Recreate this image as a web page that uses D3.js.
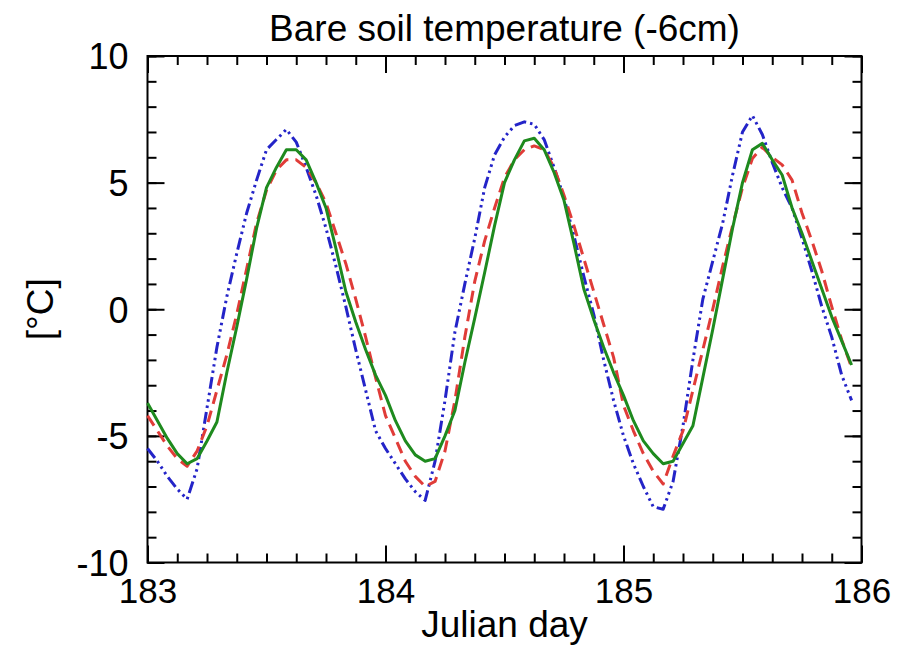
<!DOCTYPE html>
<html>
<head>
<meta charset="utf-8">
<script src="https://cdn.jsdelivr.net/npm/d3@7"></script>
<style>
  html, body { margin: 0; padding: 0; background: #fff; }
  svg text { font-family: "Liberation Sans", Arial, Helvetica, sans-serif; fill: #000; }
</style>
</head>
<body>
<div id="chart"></div>
<script>
// --- data: hourly values, day 183.0 .. 185.96 ---
const startDay = 183;
const stepDay = 1 / 24;

const solidGreen = [
  -3.7, -4.4, -5.1, -5.7, -6.1, -5.9, -5.2, -4.45, -2.5, -0.7, 1.2, 3.2, 4.8, 5.6, 6.3, 6.3, 5.9, 5.0, 4.0, 2.4, 0.7, -0.5, -1.6, -2.6,
  -3.4, -4.4, -5.2, -5.75, -6.0, -5.9, -5.0, -4.0, -2.1, -0.35, 1.45, 3.3, 5.0, 5.9, 6.65, 6.75, 6.3, 5.4, 4.3, 2.6, 0.8, -0.4, -1.5, -2.5,
  -3.4, -4.4, -5.2, -5.7, -6.1, -6.0, -5.3, -4.6, -2.7, -0.8, 1.2, 3.2, 5.0, 6.3, 6.55, 5.9, 5.3, 4.0, 3.0, 1.9, 0.8, -0.3, -1.25, -2.2
];
const dashedRed = [
  -4.2, -4.8, -5.4, -5.9, -6.2, -5.6, -4.6, -3.2, -1.8, -0.2, 1.6, 3.4, 4.7, 5.5, 5.9, 5.9, 5.6, 5.0, 4.2, 3.0, 1.8, 0.4, -1.1, -2.7,
  -4.2, -5.1, -6.0, -6.6, -7.0, -6.8, -5.6, -3.6, -1.1, 1.1, 2.7, 4.0, 5.2, 5.9, 6.3, 6.45, 6.3, 5.6, 4.5, 3.3, 2.0, 0.7, -0.6, -1.9,
  -3.8, -4.8, -5.7, -6.4, -6.9, -5.8, -4.8, -3.2, -1.6, 0.0, 1.7, 3.3, 4.8, 5.95, 6.4, 6.0, 5.7, 5.1, 3.8, 2.7, 1.5, 0.1, -1.2, -2.3
];
const dashDotBlue = [
  -5.5, -6.0, -6.6, -7.1, -7.5, -6.3, -3.9, -1.5, 0.5, 2.2, 3.8, 5.1, 6.3, 6.7, 7.1, 6.6, 5.6, 4.5, 3.2, 1.7, 0.1, -1.6, -3.2, -4.8,
  -5.5, -6.1, -6.7, -7.2, -7.55, -6.0, -3.6, -0.9, 1.0, 2.8, 4.8, 6.1, 6.8, 7.25, 7.4, 7.3, 6.7, 5.6, 4.4, 2.9, 1.3, -0.2, -2.0, -3.6,
  -5.0, -6.1, -7.0, -7.8, -7.9, -6.8, -4.6, -2.0, 0.4, 1.9, 3.4, 5.3, 7.0, 7.65, 6.9, 5.8, 4.8, 4.0, 2.8, 1.5, 0.1, -1.1, -2.6, -3.6
];

const xMajor = [183, 184, 185, 186];
const yMajor = [-10, -5, 0, 5, 10];

const W = 908, H = 647;
const margin = {top: 56, right: 46.5, bottom: 84.5, left: 147.5};
const width = W - margin.left - margin.right;
const height = H - margin.top - margin.bottom;

const svg = d3.select("#chart").append("svg")
  .attr("width", W).attr("height", H);
const g = svg.append("g").attr("transform", `translate(${margin.left},${margin.top})`);

const x = d3.scaleLinear().domain([183, 186]).range([0, width]);
const y = d3.scaleLinear().domain([-10, 10]).range([height, 0]);

const xMinor = d3.range(183, 186.001, 0.125);
const yMinor = d3.range(-10, 10.001, 1);

function styleAxis(sel) {
  sel.select(".domain").remove();
  sel.selectAll(".tick line").attr("stroke", "#000").attr("stroke-width", 2);
}

// minor ticks on all four sides
g.append("g").attr("transform", `translate(0,${height})`)
  .call(d3.axisBottom(x).tickValues(xMinor).tickSize(-9).tickFormat("")).call(styleAxis);
g.append("g")
  .call(d3.axisTop(x).tickValues(xMinor).tickSize(-9).tickFormat("")).call(styleAxis);
g.append("g")
  .call(d3.axisLeft(y).tickValues(yMinor).tickSize(-9).tickFormat("")).call(styleAxis);
g.append("g").attr("transform", `translate(${width},0)`)
  .call(d3.axisRight(y).tickValues(yMinor).tickSize(-9).tickFormat("")).call(styleAxis);

// major ticks (plain hyphen for negatives, as in the original)
const xAx = g.append("g").attr("transform", `translate(0,${height})`)
  .call(d3.axisBottom(x).tickValues(xMajor).tickSize(-17).tickPadding(0).tickFormat(d => String(d)));
styleAxis(xAx);
xAx.selectAll("text").attr("font-size", 35).attr("dy", 0).attr("y", 40);
g.append("g")
  .call(d3.axisTop(x).tickValues(xMajor).tickSize(-17).tickFormat("")).call(styleAxis);

const yAx = g.append("g")
  .call(d3.axisLeft(y).tickValues(yMajor).tickSize(-17).tickFormat(d => String(d)));
styleAxis(yAx);
yAx.selectAll("text").attr("font-size", 36).attr("x", -19).attr("dy", "0.36em");
g.append("g").attr("transform", `translate(${width},0)`)
  .call(d3.axisRight(y).tickValues(yMajor).tickSize(-17).tickFormat("")).call(styleAxis);

// frame
g.append("rect").attr("width", width).attr("height", height)
  .attr("fill", "none").attr("stroke", "#000").attr("stroke-width", 2);

// lines
const line = d3.line()
  .x((d, i) => x(startDay + i * stepDay))
  .y(d => y(d));

const series = [
  {values: dashDotBlue, color: "#2424c8", dash: "12,4,2.5,4,2.5,4,2.5,4"},
  {values: dashedRed, color: "#e03c38", dash: "12,7"},
  {values: solidGreen, color: "#1e8a1e", dash: null}
];

series.forEach(s => {
  g.append("path").datum(s.values)
    .attr("fill", "none")
    .attr("stroke", s.color)
    .attr("stroke-width", 3)
    .attr("stroke-linejoin", "round")
    .attr("stroke-dasharray", s.dash)
    .attr("d", line);
});

// titles
svg.append("text").attr("x", margin.left + width / 2).attr("y", 41)
  .attr("text-anchor", "middle").attr("font-size", 37)
  .text("Bare soil temperature (-6cm)");
svg.append("text").attr("x", margin.left + width / 2).attr("y", 637)
  .attr("text-anchor", "middle").attr("font-size", 37)
  .text("Julian day");
svg.append("text")
  .attr("transform", `translate(53,${margin.top + height / 2}) rotate(-90)`)
  .attr("text-anchor", "middle").attr("font-size", 37)
  .text("[°C]");
</script>
</body>
</html>
